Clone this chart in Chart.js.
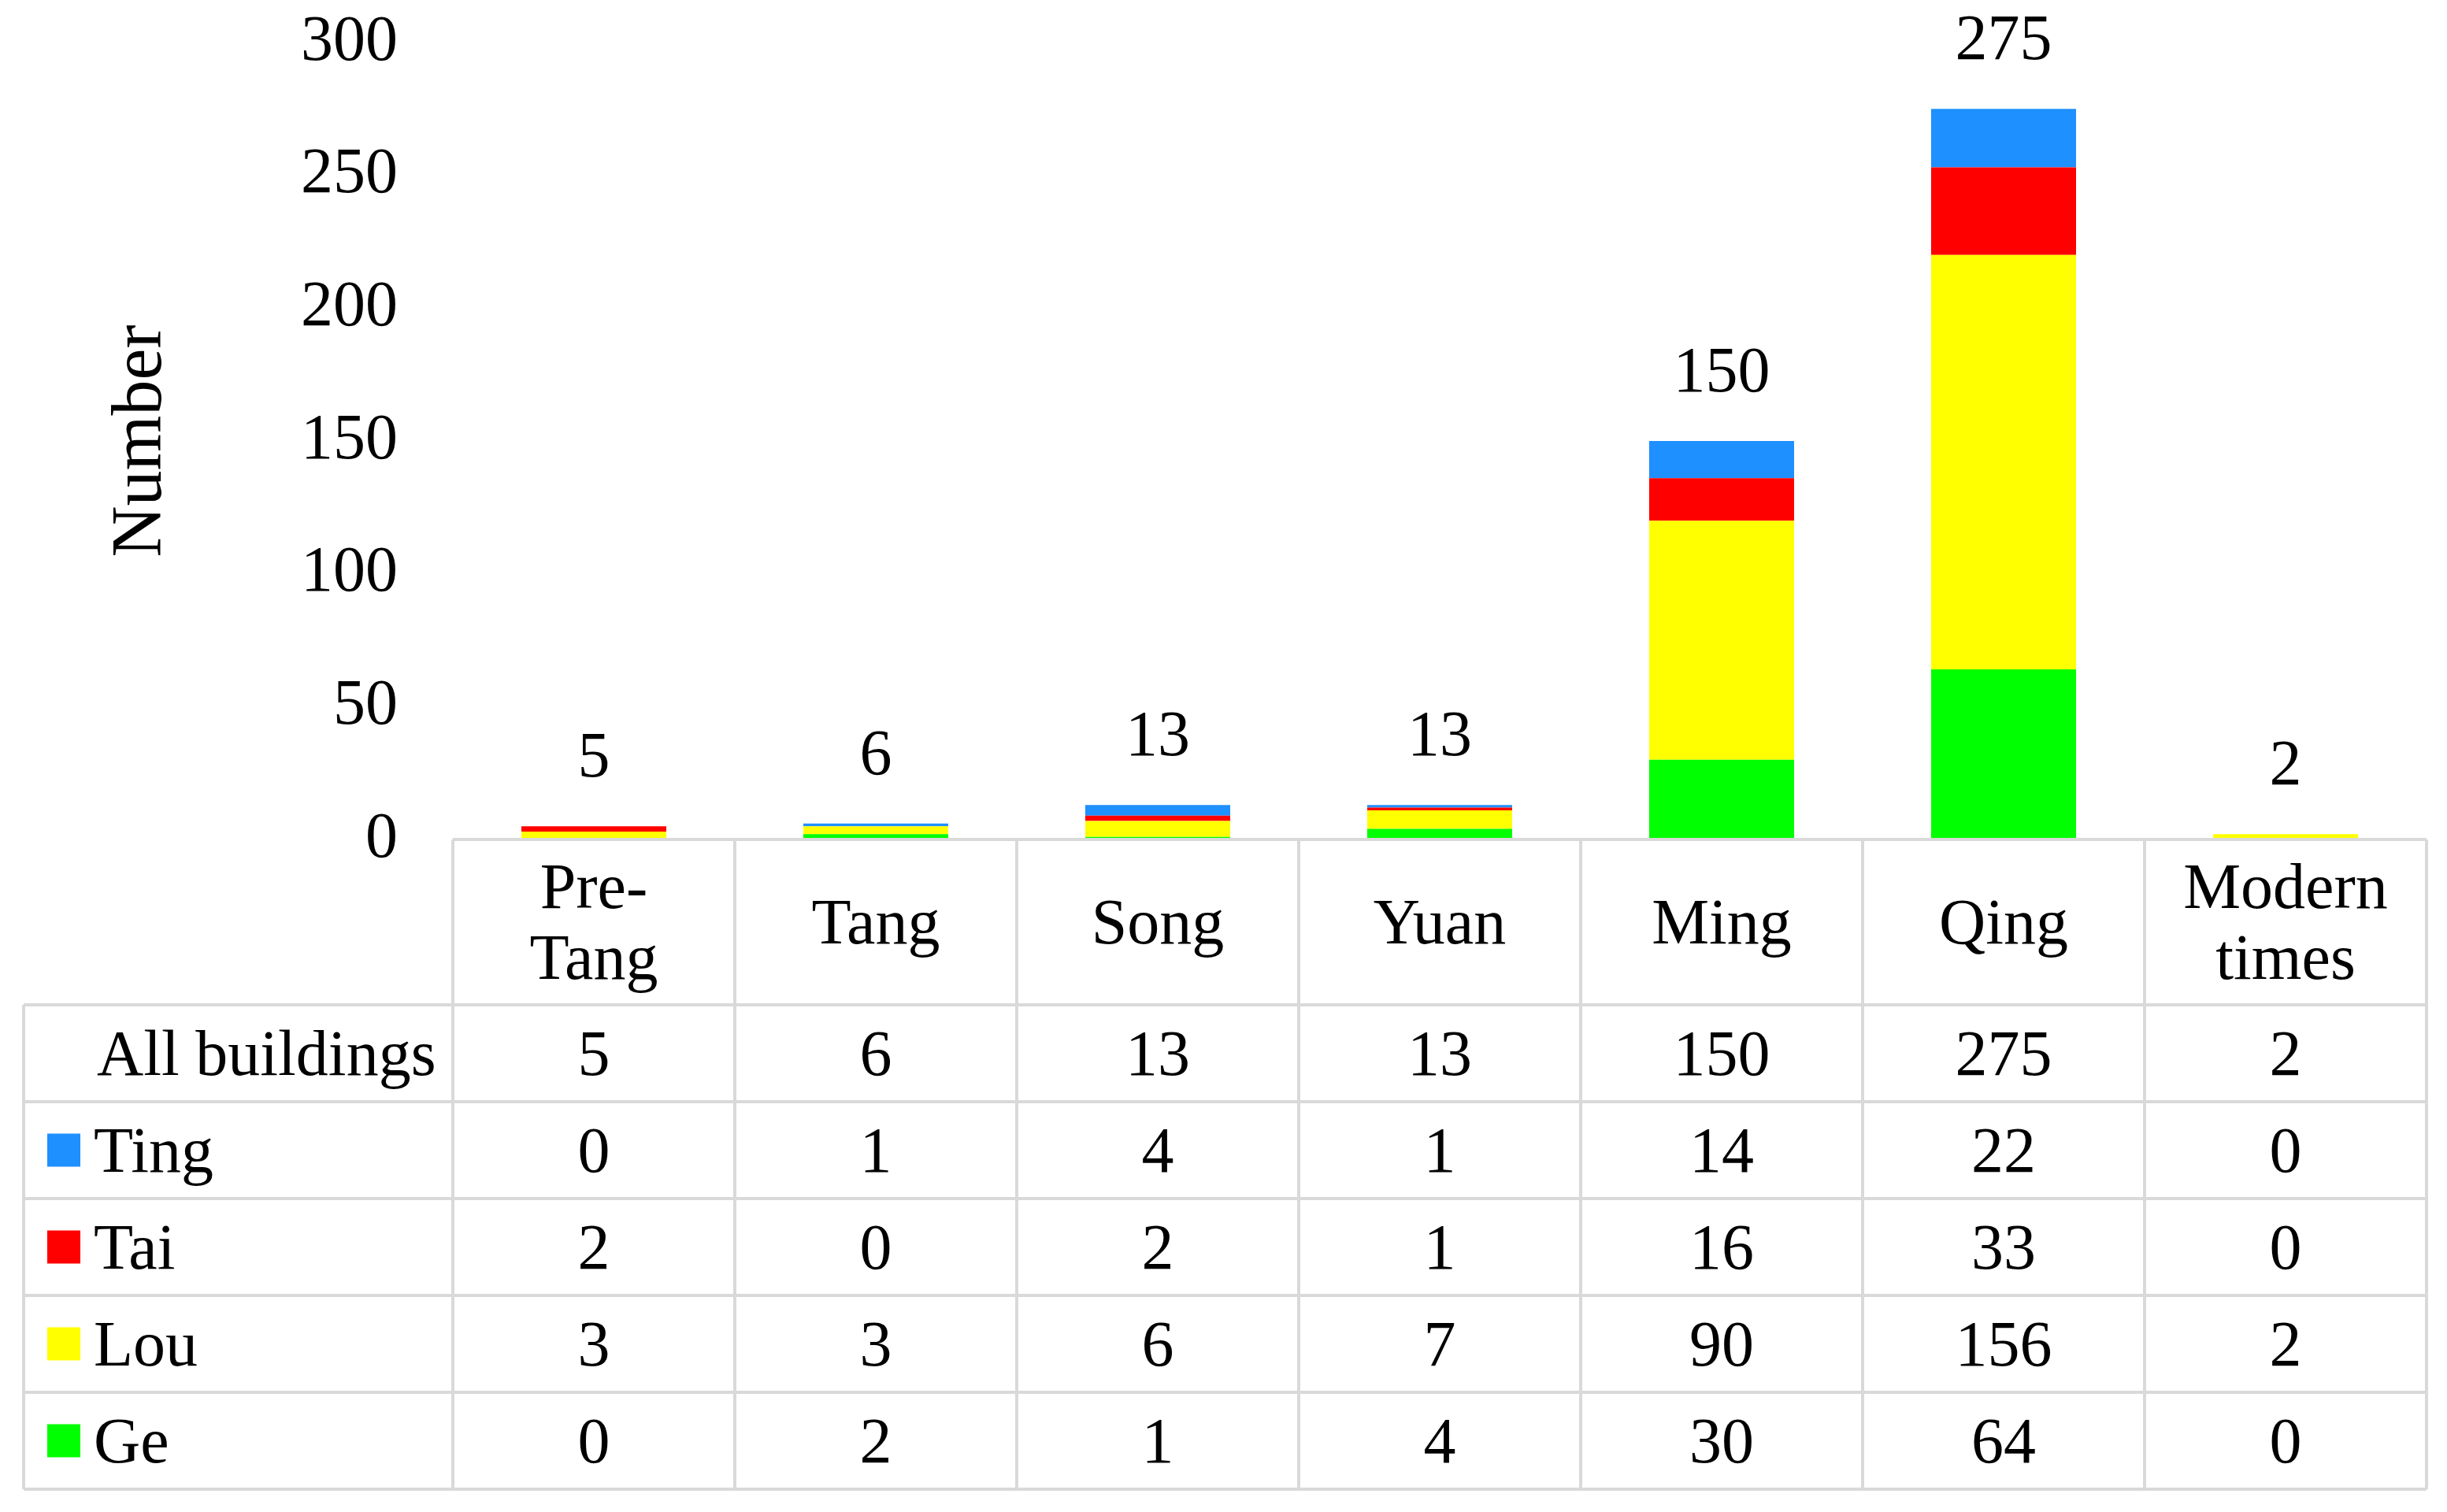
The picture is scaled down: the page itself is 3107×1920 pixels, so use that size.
<!DOCTYPE html>
<html lang="en">
<head>
<meta charset="UTF-8">
<title>Buildings by period</title>
<script src="https://cdn.jsdelivr.net/npm/chart.js@4.4.1/dist/chart.umd.js"></script>
<style>
  html, body { margin: 0; padding: 0; background: #fff; }
  #wrap { width: 3107px; height: 1920px; position: relative; }
</style>
</head>
<body>
<div id="wrap"><canvas id="chart"></canvas></div>
<script>
const periods = [['Pre-', 'Tang'], 'Tang', 'Song', 'Yuan', 'Ming', 'Qing', ['Modern', 'times']];
const allBuildings = [5, 6, 13, 13, 150, 275, 2];
const ting = [0, 1, 4, 1, 14, 22, 0];
const tai = [2, 0, 2, 1, 16, 33, 0];
const lou = [3, 3, 6, 7, 90, 156, 2];
const ge = [0, 2, 1, 4, 30, 64, 0];
const yTicks = [0, 50, 100, 150, 200, 250, 300];

const FONT = '"Liberation Serif", "Times New Roman", serif';
const SIZE = 82;
const GRID = '#d9d9d9';
const colors = { Ting: '#1e90ff', Tai: '#ff0000', Lou: '#ffff00', Ge: '#00ff00' };

// rows of the table under the plot, top to bottom
const tableRows = [
  ['All buildings', allBuildings],
  ['Ting', ting],
  ['Tai', tai],
  ['Lou', lou],
  ['Ge', ge]
];

const tablePlugin = {
  id: 'tableBelow',
  afterDatasetsDraw(chart) {
    const { ctx, chartArea: a, scales: { x, y } } = chart;
    const n = periods.length;
    const colW = (a.right - a.left) / n;
    const tableLeft = 30;
    const headBottom = 1276;
    const rowH = 123;
    const tableBottom = headBottom + rowH * tableRows.length;
    const capMid = SIZE * 0.33; // half the digit/cap height, for visual centering

    ctx.save();
    ctx.font = SIZE + 'px ' + FONT;
    ctx.fillStyle = '#000';

    // totals above the bars
    ctx.textAlign = 'center';
    ctx.textBaseline = 'alphabetic';
    allBuildings.forEach((v, i) => {
      ctx.fillText(String(v), x.getPixelForValue(i), y.getPixelForValue(v) - 90 + capMid);
    });

    // grid lines
    ctx.strokeStyle = GRID;
    ctx.lineWidth = 4;
    ctx.beginPath();
    ctx.moveTo(a.left, a.bottom); ctx.lineTo(a.right, a.bottom);
    for (let r = 0; r <= tableRows.length; r++) {
      const yy = headBottom + r * rowH;
      ctx.moveTo(tableLeft, yy); ctx.lineTo(a.right, yy);
    }
    ctx.moveTo(tableLeft, headBottom); ctx.lineTo(tableLeft, tableBottom);
    for (let k = 0; k <= n; k++) {
      const xx = a.left + k * colW;
      ctx.moveTo(xx, a.bottom); ctx.lineTo(xx, tableBottom);
    }
    ctx.stroke();

    // header: period names
    const headMid = (a.bottom + headBottom) / 2;
    periods.forEach((p, i) => {
      const cx = x.getPixelForValue(i);
      const lines = Array.isArray(p) ? p : [p];
      const step = 90;
      lines.forEach((t, j) => {
        const cy = headMid + (j - (lines.length - 1) / 2) * step;
        ctx.fillText(t, cx, cy + capMid);
      });
    });

    // body rows
    tableRows.forEach(([label, vals], r) => {
      const cy = headBottom + r * rowH + rowH / 2;
      ctx.textAlign = 'left';
      if (colors[label]) {
        ctx.fillStyle = colors[label];
        ctx.fillRect(60, cy - 21, 42, 42);
        ctx.fillStyle = '#000';
        ctx.fillText(label, 119, cy + capMid);
      } else {
        ctx.fillText(label, 123, cy + capMid);
      }
      ctx.textAlign = 'center';
      vals.forEach((v, i) => ctx.fillText(String(v), x.getPixelForValue(i), cy + capMid));
    });
    ctx.restore();
  }
};

new Chart(document.getElementById('chart'), {
  type: 'bar',
  data: {
    labels: periods.map(p => Array.isArray(p) ? p.join(' ') : p),
    datasets: [
      { label: 'Ge', data: ge, backgroundColor: colors.Ge },
      { label: 'Lou', data: lou, backgroundColor: colors.Lou },
      { label: 'Tai', data: tai, backgroundColor: colors.Tai },
      { label: 'Ting', data: ting, backgroundColor: colors.Ting }
    ]
  },
  options: {
    responsive: true,
    maintainAspectRatio: false,
    devicePixelRatio: 1,
    animation: false,
    datasets: { bar: { categoryPercentage: 0.514, barPercentage: 1 } },
    layout: { padding: { left: 100, right: 26, top: 54, bottom: 854 } },
    plugins: { legend: { display: false }, tooltip: { enabled: false } },
    scales: {
      x: { stacked: true, display: false },
      y: {
        stacked: true,
        min: 0,
        max: 300,
        afterBuildTicks: s => { s.ticks = yTicks.map(v => ({ value: v })); },
        afterFit: s => { s.width = 475; s.paddingTop = 0; s.paddingBottom = 0; },
        grid: { display: false },
        border: { display: false },
        ticks: { padding: 62, color: '#000', font: { family: FONT, size: SIZE } },
        title: {
          display: true,
          text: 'Number',
          color: '#000',
          padding: { top: 26, bottom: 0 },
          font: { family: FONT, size: 90 }
        }
      }
    }
  },
  plugins: [tablePlugin]
});
</script>
</body>
</html>
